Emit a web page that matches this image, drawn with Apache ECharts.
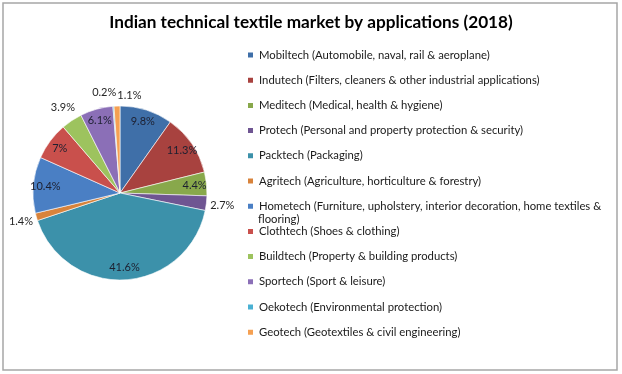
<!DOCTYPE html>
<html>
<head>
<meta charset="utf-8">
<script src="https://cdn.jsdelivr.net/npm/echarts@6/dist/echarts.min.js"></script>
<style>html,body{margin:0;padding:0;background:#fff}#c{width:622px;height:374px}</style>
</head>
<body>
<div id="c"></div>
<script>
const categories = [
  'Mobiltech (Automobile, naval, rail & aeroplane)',
  'Indutech (Filters, cleaners & other industrial applications)',
  'Meditech (Medical, health & hygiene)',
  'Protech (Personal and property protection & security)',
  'Packtech (Packaging)',
  'Agritech (Agriculture, horticulture & forestry)',
  'Hometech (Furniture, upholstery, interior decoration, home textiles & flooring)',
  'Clothtech (Shoes & clothing)',
  'Buildtech (Property & building products)',
  'Sportech (Sport & leisure)',
  'Oekotech (Environmental protection)',
  'Geotech (Geotextiles & civil engineering)'
];
const values = [9.8, 11.3, 4.4, 2.7, 41.6, 1.4, 10.4, 7, 3.9, 6.1, 0.2, 1.1];
const colors = ['#3F6FA8','#A8423F','#88A84B','#6F5592','#3C91AA','#D8833B',
                '#4A7FC4','#C9504C','#9DC35E','#8B6FB7','#4AB1D3','#F5A052'];
// which slices get their label outside the pie (by index)
const outsideIdx = [3, 5, 8, 11];
const tinyIdx = [10];
const labelOffsets = {10: [-8, 2], 11: [13, 5]};
// wrapped legend entry: first line in legend, rest drawn below it
const wrapIdx = 6;
const wrapSplit = 'home textiles &';

const chart = echarts.init(document.getElementById('c'), null, {renderer: 'canvas'});
const cx = 120, cy = 193, R = 87;
const FONT = 'Lato, "Noto Sans", sans-serif';

const mainData = categories.map((n, i) => ({name: n, value: values[i], itemStyle: {color: colors[i]}}));
function labelData(pred) {
  return categories.map((n, i) => ({
    name: n, value: values[i],
    label: {show: pred(i), offset: labelOffsets[i] || [0, 0]}
  }));
}
const innerLabelData = labelData(i => !outsideIdx.includes(i) && !tinyIdx.includes(i));
const outerLabelData = labelData(i => outsideIdx.includes(i));
const tinyLabelData = labelData(i => tinyIdx.includes(i));

const wrapName = categories[wrapIdx];
const cut = wrapName.indexOf(wrapSplit) + wrapSplit.length;
const wrapFirst = wrapName.slice(0, cut);
const wrapRest = wrapName.slice(cut).trim();

const LEG_LEFT = 246, LEG_TOP = 48, LEG_STEP = 25.2;

function labelSeries(radius, data, color) {
  return {
    type: 'pie', center: [cx, cy], radius: radius, startAngle: 90, clockwise: true,
    avoidLabelOverlap: false, silent: true, legendHoverLink: false,
    itemStyle: {color: 'rgba(0,0,0,0)'},
    label: {position: 'inside', formatter: '{c}%', fontFamily: FONT, fontSize: 11, color: color},
    labelLine: {show: false},
    labelLayout: {hideOverlap: false},
    data: data
  };
}

chart.setOption({
  animation: false,
  title: {
    text: 'Indian technical textile market by applications (2018)',
    left: 'center', top: 9,
    textStyle: {fontFamily: FONT, fontWeight: 'bold', fontSize: 17.2, color: '#000'}
  },
  graphic: [{
    type: 'rect', shape: {x: 3, y: 3, width: 614, height: 367},
    style: {fill: 'none', stroke: '#a6a6a6', lineWidth: 1.5}, silent: true, z: -1
  }, {
    type: 'text', left: LEG_LEFT + 12, top: LEG_TOP + LEG_STEP * wrapIdx + 14.5,
    style: {text: wrapRest, fontFamily: FONT, fontSize: 11.3, fill: '#1a1a1a'}, silent: true
  }],
  legend: {
    orient: 'vertical', left: LEG_LEFT, top: LEG_TOP, padding: 0,
    itemWidth: 7, itemHeight: 7, itemGap: LEG_STEP - 14,
    icon: 'rect', selectedMode: false,
    data: categories,
    formatter: n => (n === wrapName ? wrapFirst : n),
    textStyle: {fontFamily: FONT, fontSize: 11.3, color: '#1a1a1a', lineHeight: 14}
  },
  series: [{
    type: 'pie', center: [cx, cy], radius: [0, R], startAngle: 90, clockwise: true,
    avoidLabelOverlap: false, silent: true,
    label: {show: false}, labelLine: {show: false},
    itemStyle: {borderColor: '#ffffff', borderWidth: 0.6},
    data: mainData
  },
  labelSeries([44, 100], innerLabelData, '#1d2030'),
  labelSeries([80, 120], outerLabelData, '#262626'),
  labelSeries([80, 120], tinyLabelData, '#262626')
  ]
});
</script>
</body>
</html>
